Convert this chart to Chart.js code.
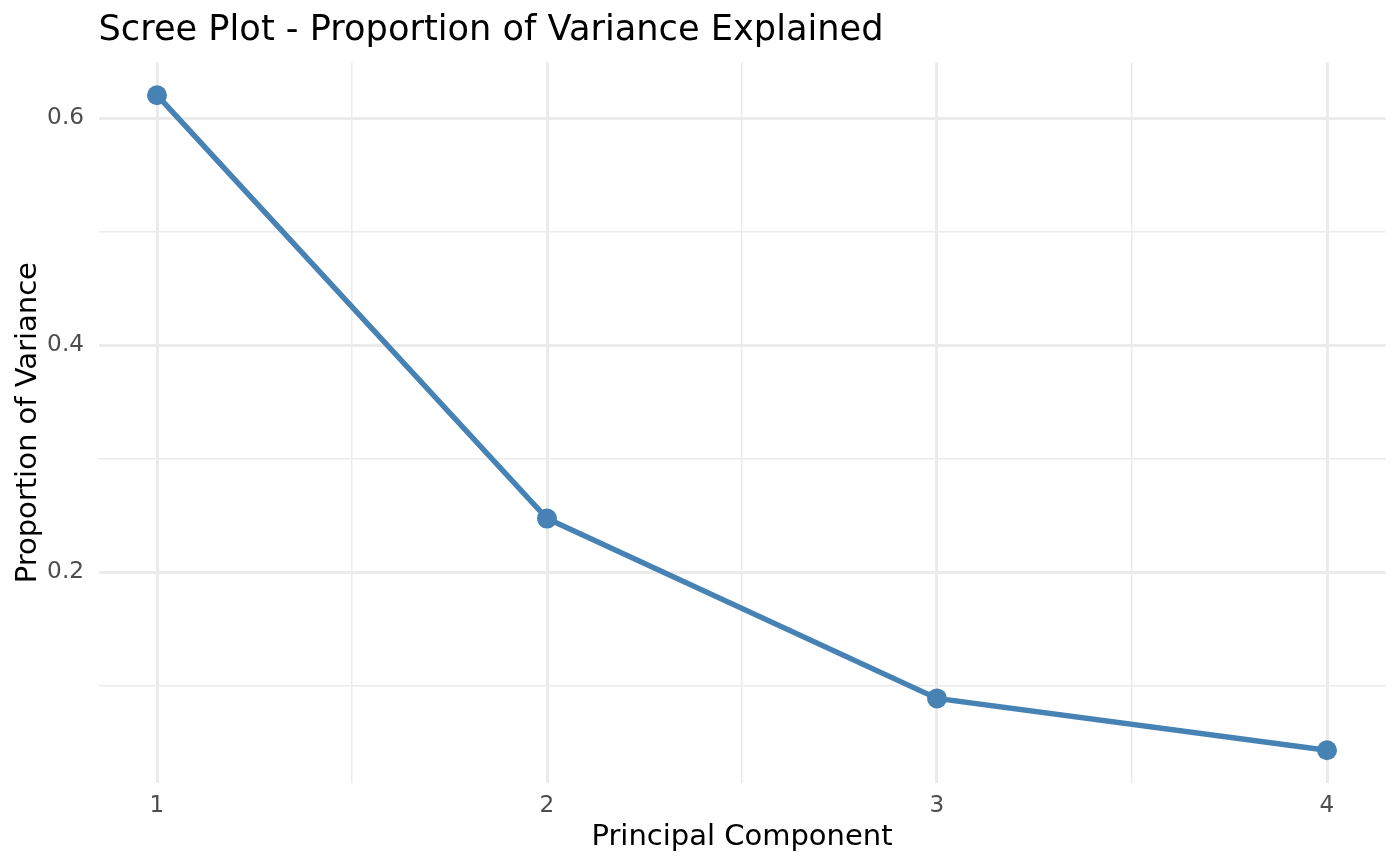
<!DOCTYPE html>
<html>
<head>
<meta charset="utf-8">
<script src="https://cdn.jsdelivr.net/npm/chart.js@4/dist/chart.umd.min.js"></script>
<style>
  html, body { margin: 0; padding: 0; background: #ffffff; }
  #wrap { width: 1400px; height: 866px; }
</style>
</head>
<body>
<div id="wrap"><canvas id="scree" width="1400" height="866"></canvas></div>
<script>
// scree plot data (proportion of variance per component)
var components = [1, 2, 3, 4];
var variance = [0.6201, 0.2474, 0.0891, 0.0434];

// grid breaks
var xMajor = [1, 2, 3, 4];
var xMinor = [1.5, 2.5, 3.5];
var yMajor = [0.2, 0.4, 0.6];
var yMinor = [0.1, 0.3, 0.5];

var points = components.map(function (c, i) {
  return { x: c, y: variance[i] };
});

function isMajor(list, v) {
  for (var i = 0; i < list.length; i++) {
    if (Math.abs(list[i] - v) < 1e-9) return true;
  }
  return false;
}

function breaks(major, minor) {
  return major.concat(minor).sort(function (a, b) { return a - b; })
    .map(function (v) { return { value: v }; });
}

Chart.defaults.font.family = "'DejaVu Sans', sans-serif";

var ctx = document.getElementById('scree').getContext('2d');
var myChart = new Chart(ctx, {
  type: 'line',
  data: {
    datasets: [{
      data: points,
      borderColor: '#4682B4',
      backgroundColor: '#4682B4',
      borderWidth: 5.5,
      pointRadius: 10,
      pointHoverRadius: 10,
      pointBorderWidth: 0,
      pointBackgroundColor: '#4682B4',
      tension: 0,
      fill: false,
      clip: false
    }]
  },
  options: {
    responsive: false,
    devicePixelRatio: 1,
    animation: false,
    layout: { padding: { left: 0, right: 14.5, top: 0, bottom: 0 } },
    plugins: {
      legend: { display: false },
      tooltip: { enabled: false },
      title: {
        display: true,
        text: 'Scree Plot - Proportion of Variance Explained',
        align: 'start',
        fullSize: false,
        color: '#000000',
        font: { size: 35.2, weight: 'normal', lineHeight: 1 },
        padding: { top: 13.5, bottom: 13.7 }
      }
    },
    scales: {
      x: {
        type: 'linear',
        min: 0.85,
        max: 4.15,
        afterBuildTicks: function (scale) {
          scale.ticks = breaks(xMajor, xMinor);
        },
        afterFit: function (scale) {
          scale.height = 83;
        },
        border: { display: false },
        grid: {
          drawTicks: false,
          color: '#EBEBEB',
          lineWidth: function (c) {
            return isMajor(xMajor, c.tick.value) ? 3 : 1.5;
          }
        },
        ticks: {
          autoSkip: false,
          maxRotation: 0,
          padding: 11,
          color: '#4D4D4D',
          font: { size: 23.2, lineHeight: 1 },
          callback: function (v) {
            return isMajor(xMajor, v) ? String(v) : '';
          }
        },
        title: {
          display: true,
          text: 'Principal Component',
          color: '#000000',
          font: { size: 29, lineHeight: 1 },
          padding: { top: 0, bottom: 14.5 }
        }
      },
      y: {
        type: 'linear',
        min: 0.0146,
        max: 0.649,
        afterBuildTicks: function (scale) {
          scale.ticks = breaks(yMajor, yMinor);
        },
        afterFit: function (scale) {
          scale.width = 98.5;
        },
        border: { display: false },
        grid: {
          drawTicks: false,
          color: '#EBEBEB',
          lineWidth: function (c) {
            return isMajor(yMajor, c.tick.value) ? 3 : 1.5;
          }
        },
        ticks: {
          autoSkip: false,
          padding: 14.5,
          color: '#4D4D4D',
          font: { size: 23.2, lineHeight: 1 },
          callback: function (v) {
            return isMajor(yMajor, v) ? v.toFixed(1) : '';
          }
        },
        title: {
          display: true,
          text: 'Proportion of Variance',
          color: '#000000',
          font: { size: 29, lineHeight: 1 },
          padding: { top: 13.5, bottom: 0 }
        }
      }
    }
  }
});
</script>
</body>
</html>
